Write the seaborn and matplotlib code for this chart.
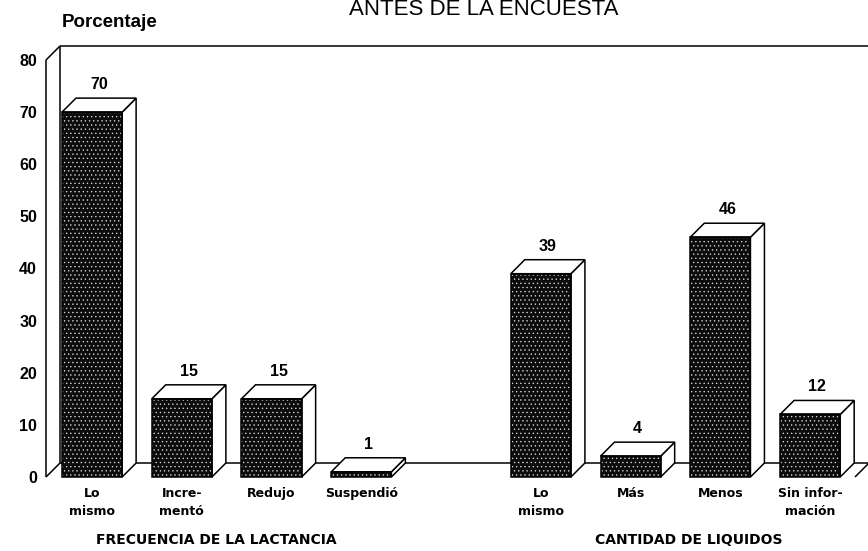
import numpy as np
import pandas as pd
import matplotlib
matplotlib.use("Agg")
import matplotlib.pyplot as plt
import seaborn as sns
from matplotlib.patches import Polygon, Rectangle

# ---- data ----
title = "ANTES DE LA ENCUESTA"
ylabel = "Porcentaje"
group1_labels = ["Lo\nmismo", "Incre-\nmentó", "Redujo", "Suspendió"]
group1_values = [70, 15, 15, 1]
group2_labels = ["Lo\nmismo", "Más", "Menos", "Sin infor-\nmación"]
group2_values = [39, 4, 46, 12]
group_titles = ["FRECUENCIA DE LA LACTANCIA", "CANTIDAD DE LIQUIDOS"]
y_ticks = [0, 10, 20, 30, 40, 50, 60, 70, 80]

sns.set_theme(style="white")
plt.rcParams["font.family"] = ["Liberation Sans", "DejaVu Sans"]
plt.rcParams["hatch.linewidth"] = 0.45
plt.rcParams["text.color"] = "black"
plt.rcParams["xtick.color"] = "black"
plt.rcParams["ytick.color"] = "black"

pos1 = list(range(len(group1_values)))
pos2 = [len(group1_values) + 1 + i for i in range(len(group2_values))]
df = pd.DataFrame({"pos": pos1 + pos2,
                   "value": group1_values + group2_values,
                   "label": group1_labels + group2_labels})

W, H = 868, 551
fig = plt.figure(figsize=(W / 100, H / 100), dpi=100)
ax = fig.add_axes([46 / W, (H - 477) / H, (855 - 46) / W, (477 - 60) / H])

sns.barplot(data=df, x="pos", y="value", native_scale=True, width=0.67,
            color="#0c0c0c", saturation=1, edgecolor="#d8d8d8", linewidth=0,
            hatch="....", ax=ax, zorder=3)

xl, xr = -0.513, 8.5
ax.set_xlim(xl, xr)
ax.set_ylim(0, 80)
for s in ax.spines.values():
    s.set_visible(False)
ax.grid(False)

# depth in data units (~14 px)
ppx = (855 - 46) / (xr - xl)
ppy = (477 - 60) / 80
dx, dy = 14 / ppx, 14 / ppy

lk = dict(color="black", lw=1.1, clip_on=False, solid_capstyle="butt")
# back wall and floor
ax.plot([xl + dx, xl + dx], [dy, 80 + dy], zorder=1, **lk)
ax.plot([xl + dx, xr + dx], [80 + dy, 80 + dy], zorder=1, **lk)
ax.plot([xl + dx, xr + dx], [dy, dy], zorder=1, **lk)
ax.plot([xl, xl + dx], [80, 80 + dy], zorder=1, **lk)
ax.plot([xl, xl + dx], [0, dy], zorder=1, **lk)
ax.plot([xr, xr + dx], [0, dy], zorder=1, **lk)
ax.plot([xl, xl], [0, 80], zorder=1, **lk)

bars = [p for p in ax.patches if isinstance(p, Rectangle)]
for p in bars:
    x0, w, h = p.get_x(), p.get_width(), p.get_height()
    top = Polygon([(x0, h), (x0 + w, h), (x0 + w + dx, h + dy), (x0 + dx, h + dy)],
                  closed=True, fc="white", ec="black", lw=1.1, zorder=4, clip_on=False)
    side = Polygon([(x0 + w, 0), (x0 + w, h), (x0 + w + dx, h + dy), (x0 + w + dx, dy)],
                   closed=True, fc="white", ec="black", lw=1.1, zorder=4, clip_on=False)
    front = Rectangle((x0, 0), w, h, fill=False, ec="black", lw=1.1, zorder=5, clip_on=False)
    ax.add_patch(side)
    ax.add_patch(top)
    ax.add_patch(front)
    ax.annotate(f"{h:g}", xy=(x0 + w / 2 + dx / 2, h + dy), xytext=(0, 6),
                textcoords="offset pixels", ha="center", va="bottom",
                fontsize=11.5, fontweight="bold", zorder=6)

ax.set_xticks(df["pos"].tolist())
ax.set_xticklabels(df["label"].tolist(), fontsize=9, fontweight="bold",
                   family="DejaVu Sans", linespacing=1.55)
ax.set_yticks(y_ticks)
ax.set_yticklabels([str(t) for t in y_ticks], fontsize=11.5, fontweight="bold")
ax.tick_params(axis="x", length=0, pad=7)
ax.tick_params(axis="y", length=0, pad=6.5)
ax.set_xlabel("")
ax.set_ylabel("")

for gpos, gt, off in zip([pos1, pos2], group_titles, [-10, 13]):
    ax.annotate(gt, xy=(np.mean(gpos), 0), xycoords=("data", "axes fraction"),
                xytext=(off, -(540 - 477)), textcoords="offset pixels",
                ha="center", va="center", fontsize=10, fontweight="bold",
                family="DejaVu Sans")

fig.text(62 / W, 1 - 27 / H, ylabel, ha="left", va="baseline",
         fontsize=13.5, fontweight="bold")
fig.text(484 / W, 1 - 15 / H, title, ha="center", va="baseline", fontsize=16)

fig.savefig("out.png", dpi=100)
